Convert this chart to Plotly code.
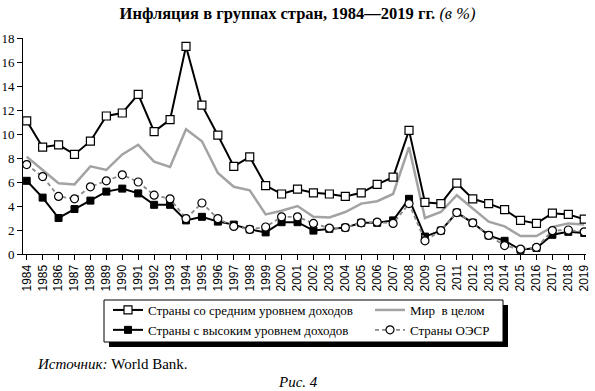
import plotly.graph_objects as go

years = list(range(1984, 2020))

middle_income = [11.1, 8.9, 9.1, 8.3, 9.4, 11.5, 11.75, 13.3, 10.2, 11.2, 17.3,
                 12.4, 9.9, 7.3, 8.1, 5.7, 5.0, 5.4, 5.1, 5.0, 4.8, 5.1, 5.8,
                 6.4, 10.3, 4.3, 4.2, 5.9, 4.6, 4.2, 3.7, 2.8, 2.55, 3.4, 3.3, 2.9]
world = [8.1, 7.0, 5.9, 5.8, 7.3, 7.0, 8.3, 9.1, 7.7, 7.25, 10.4,
         9.4, 6.75, 5.6, 5.3, 3.3, 3.6, 4.0, 3.1, 3.05, 3.5, 4.2, 4.4,
         5.0, 8.9, 3.0, 3.5, 4.9, 3.8, 2.7, 2.3, 1.5, 1.5, 2.25, 2.55, 2.45]
high_income = [6.1, 4.7, 3.0, 3.75, 4.45, 5.2, 5.45, 5.05, 4.1, 4.1, 2.8,
               3.1, 2.7, 2.45, 2.05, 1.8, 2.65, 2.65, 1.95, 2.1, 2.2, 2.6, 2.6,
               2.8, 4.6, 1.45, 1.95, 3.45, 2.6, 1.55, 1.1, 0.35, 0.5, 1.6, 1.85, 1.75]
oecd = [7.45, 6.45, 4.8, 4.6, 5.6, 6.1, 6.6, 6.0, 4.9, 4.6, 2.95,
        4.25, 2.95, 2.3, 2.05, 2.25, 3.1, 3.1, 2.55, 2.15, 2.2, 2.6, 2.65,
        2.55, 4.2, 1.1, 1.95, 3.45, 2.6, 1.55, 0.7, 0.4, 0.55, 1.95, 2.0, 1.85]

names = ["Страны со средним уровнем доходов", "Мир  в целом",
         "Страны с высоким уровнем доходов", "Страны ОЭСР"]
y_ticks = list(range(0, 19, 2))

W, H = 595, 391
L, R, T, B = 23, 9, 38, 137
PW, PH = W - L - R, H - T - B


def px(x):
    return (x - L) / PW


def py(y):
    return (H - B - y) / PH


SERIF = "Liberation Serif"
SANS = "Liberation Sans"

fig = go.Figure()
fig.add_trace(go.Scatter(
    x=years, y=world, name=names[1], mode="lines",
    line=dict(color="#a3a3a3", width=2.5), legend="legend2", legendrank=1))
fig.add_trace(go.Scatter(
    x=years, y=high_income, name=names[2], mode="lines+markers",
    line=dict(color="black", width=2),
    marker=dict(symbol="square", size=7, color="black", line=dict(color="black", width=1)),
    legend="legend", legendrank=2))
fig.add_trace(go.Scatter(
    x=years, y=oecd, name=names[3], mode="lines+markers",
    line=dict(color="#8a8a8a", width=1.8, dash="4px,3px"),
    marker=dict(symbol="circle", size=8, color="white", line=dict(color="black", width=1.2)),
    legend="legend2", legendrank=2))
fig.add_trace(go.Scatter(
    x=years, y=middle_income, name=names[0], mode="lines+markers",
    line=dict(color="black", width=2),
    marker=dict(symbol="square", size=8, color="white", line=dict(color="black", width=1.2)),
    legend="legend", legendrank=1))

shapes = [
    dict(type="rect", xref="paper", yref="paper",
         x0=px(109), x1=px(508), y0=py(347), y1=py(305),
         fillcolor="black", line=dict(width=0), layer="above"),
    dict(type="rect", xref="paper", yref="paper",
         x0=px(104), x1=px(503), y0=py(342), y1=py(300),
         fillcolor="white", line=dict(color="black", width=1), layer="above"),
]

legend_common = dict(
    orientation="v", bgcolor="rgba(0,0,0,0)", borderwidth=0,
    font=dict(family=SERIF, size=13, color="black"),
    xanchor="left", yanchor="top", traceorder="normal",
    itemclick=False, itemdoubleclick=False,
)

fig.update_layout(
    width=W, height=H,
    margin=dict(l=L, r=R, t=T, b=B, autoexpand=False),
    paper_bgcolor="white", plot_bgcolor="white",
    showlegend=True,
    title=dict(
        text="<b>Инфляция в группах стран, 1984—2019 гг.</b> <i>(в %)</i>",
        font=dict(family=SERIF, size=16.5, color="black"),
        x=0.5, xanchor="center", xref="container",
        y=1 - 13 / H, yanchor="middle", yref="container"),
    xaxis=dict(
        range=[1983.768, 2019.11], tickmode="array", tickvals=years,
        ticktext=[str(v) for v in years], tickangle=-90,
        ticks="outside", ticklen=5, tickwidth=1, tickcolor="black",
        showline=True, linecolor="black", linewidth=1,
        showgrid=False, zeroline=False,
        tickfont=dict(family=SANS, size=12, color="black")),
    yaxis=dict(
        range=[0, 18], tickmode="array", tickvals=y_ticks,
        ticks="outside", ticklen=5, tickwidth=1, tickcolor="black",
        showline=True, linecolor="black", linewidth=1,
        showgrid=False, zeroline=False,
        tickfont=dict(family=SERIF, size=13, color="black")),
    legend=dict(x=px(108), y=py(295), **legend_common),
    legend2=dict(x=px(370), y=py(295), **legend_common),
    shapes=shapes,
    annotations=[
        dict(text="<i>Источник:</i> World Bank.", xref="paper", yref="paper",
             x=px(35), y=py(364), xanchor="left", yanchor="middle", showarrow=False,
             font=dict(family=SERIF, size=15, color="black")),
        dict(text="<i>Рис. 4</i>", xref="paper", yref="paper",
             x=px(298), y=py(382), xanchor="center", yanchor="middle", showarrow=False,
             font=dict(family=SERIF, size=15, color="black")),
    ],
)

fig.write_html("out.html")
